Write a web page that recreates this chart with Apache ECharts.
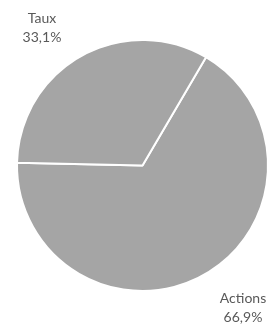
<!DOCTYPE html>
<html>
<head>
<meta charset="UTF-8">
<script src="https://cdn.jsdelivr.net/npm/echarts@6/dist/echarts.min.js"></script>
<style>
  html, body { margin: 0; padding: 0; background: #fff; }
  #chart { width: 273px; height: 327px; }
</style>
</head>
<body>
<div id="chart"></div>
<script>
  var categories = ['Actions', 'Taux'];
  var values = [66.9, 33.1];
  // label anchor points (px) for each slice, as in the original
  var labelPos = [[243, 308], [42, 28]];

  var myChart = echarts.init(document.getElementById('chart'));

  var data = categories.map(function (name, i) {
    return { name: name, value: values[i] };
  });

  myChart.setOption({
    animation: false,
    series: [
      {
        type: 'pie',
        center: [142.5, 165.5],
        radius: [0, 125.5],
        startAngle: 59.6,
        clockwise: true,
        data: data,
        itemStyle: {
          color: '#a5a5a5',
          borderColor: '#ffffff',
          borderWidth: 2
        },
        label: {
          show: true,
          position: 'inside',
          overflow: 'none',
          formatter: function (p) {
            return p.name + '\n' + p.value.toFixed(1).replace('.', ',') + '%';
          },
          fontFamily: 'Lato',
          fontSize: 14,
          lineHeight: 19,
          color: '#595959',
          align: 'center'
        },
        labelLine: { show: false },
        labelLayout: function (params) {
          var p = labelPos[params.dataIndex];
          return { x: p[0], y: p[1], align: 'center', verticalAlign: 'middle' };
        },
        emphasis: { disabled: true }
      }
    ]
  });
</script>
</body>
</html>
